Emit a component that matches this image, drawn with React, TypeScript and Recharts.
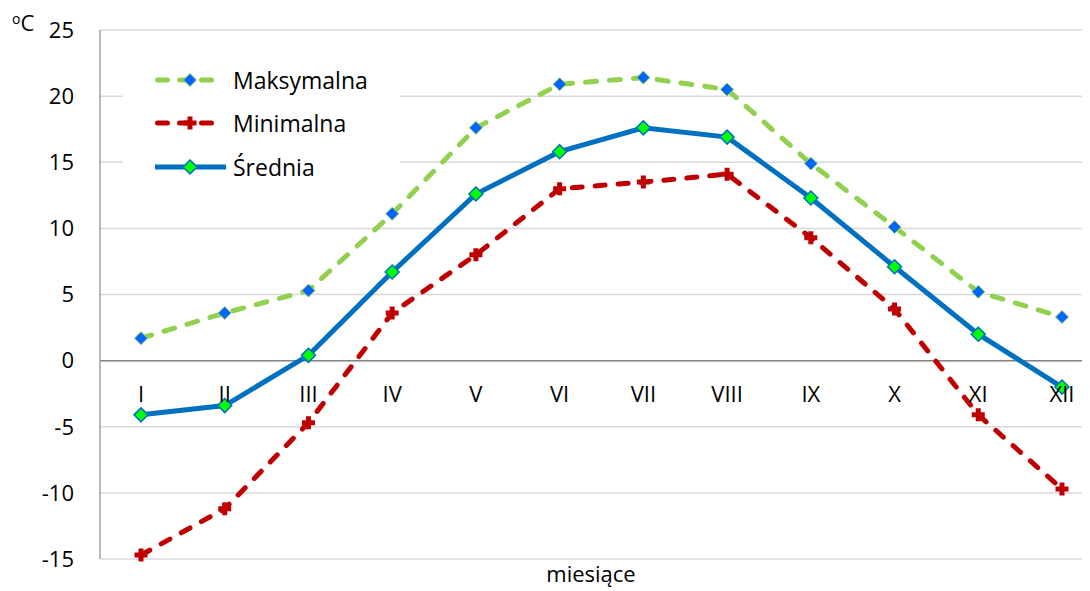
import React from 'react';
import { LineChart, Line, XAxis, YAxis, CartesianGrid, ReferenceLine, ReferenceDot, Legend } from 'recharts';

const months = ['I', 'II', 'III', 'IV', 'V', 'VI', 'VII', 'VIII', 'IX', 'X', 'XI', 'XII'];
const maxTemp = [1.7, 3.6, 5.3, 11.1, 17.6, 20.9, 21.4, 20.5, 14.9, 10.1, 5.2, 3.3];
const minTemp = [-14.7, -11.2, -4.7, 3.6, 8.0, 13.0, 13.5, 14.1, 9.3, 3.9, -4.1, -9.7];
const avgTemp = [-4.1, -3.4, 0.4, 6.7, 12.6, 15.8, 17.6, 16.9, 12.3, 7.1, 2.0, -2.0];
const yTicks = [-15, -10, -5, 0, 5, 10, 15, 20, 25];

const FONT = '"Open Sans", "Noto Sans", sans-serif';
const GREEN = '#92d050';
const RED = '#c00000';
const BLUE = '#0070c0';

const data = months.map((m, i) => ({
  month: m,
  max: maxTemp[i],
  min: minTemp[i],
  avg: avgTemp[i],
}));

// markers, same shapes as in the Excel original
const MaxMarker = ({ cx, cy }: any) => (
  <path
    d={`M${cx},${cy - 6.5} L${cx + 6.5},${cy} L${cx},${cy + 6.5} L${cx - 6.5},${cy} Z`}
    fill="#0066ff"
    stroke={GREEN}
    strokeWidth={1}
  />
);

const MinMarker = ({ cx, cy }: any) => (
  <path
    d={`M${cx - 6.5},${cy} L${cx + 6.5},${cy} M${cx},${cy - 6.5} L${cx},${cy + 6.5}`}
    stroke={RED}
    strokeWidth={5}
    fill="none"
  />
);

const AvgMarker = ({ cx, cy }: any) => (
  <path
    d={`M${cx},${cy - 7} L${cx + 7},${cy} L${cx},${cy + 7} L${cx - 7},${cy} Z`}
    fill="#00ff00"
    stroke={BLUE}
    strokeWidth={1.5}
  />
);

const legendRows = [
  { key: 'max', name: 'Maksymalna' },
  { key: 'min', name: 'Minimalna' },
  { key: 'avg', name: 'Średnia' },
];

const LegendIcon = ({ type }: { type: string }) => {
  if (type === 'avg') {
    return (
      <svg width={78} height={20}>
        <line x1={0} y1={10} x2={71} y2={10} stroke={BLUE} strokeWidth={5} />
        <AvgMarker cx={35} cy={10} />
      </svg>
    );
  }
  const color = type === 'max' ? GREEN : RED;
  return (
    <svg width={78} height={20}>
      <line x1={2.5} y1={10} x2={60} y2={10} stroke={color} strokeWidth={5} strokeDasharray="10 12" strokeLinecap="round" />
      {type === 'max' ? <MaxMarker cx={35} cy={10} /> : <MinMarker cx={35} cy={10} />}
    </svg>
  );
};

const LegendBox = () => (
  <div style={{ background: '#fff', paddingTop: 3, paddingBottom: 6 }}>
    {legendRows.map((r) => (
      <div key={r.key} style={{ display: 'flex', alignItems: 'center', height: 43.5 }}>
        <div style={{ width: 32 }} />
        <LegendIcon type={r.key} />
        <span style={{ fontFamily: FONT, fontSize: 23, color: '#000' }}>{r.name}</span>
      </div>
    ))}
  </div>
);

export default function App() {
  return (
    <div style={{ position: 'relative', width: 1082, height: 583 }}>
      <div
        style={{
          position: 'absolute',
          left: 4,
          top: 3,
          fontFamily: FONT,
          fontSize: 22,
          color: '#000',
          lineHeight: 1,
          zIndex: 2,
        }}
      >
        <span style={{ fontSize: 14, verticalAlign: 'top', position: 'relative', top: 1 }}>o</span>C
      </div>
      <LineChart width={1082} height={583} data={data} margin={{ top: 22, right: 0, bottom: 0, left: 0 }}>
        <CartesianGrid vertical={false} stroke="#d9d9d9" strokeWidth={1.5} />
        <XAxis
          dataKey="month"
          scale="point"
          padding={{ left: 41, right: 28 }}
          height={32}
          tick={false}
          tickLine={false}
          axisLine={false}
          label={{ value: 'miesiące', position: 'insideBottom', offset: 9, dx: -4, fill: '#000', fontSize: 22, fontFamily: FONT }}
        />
        <YAxis
          domain={[-15, 25]}
          ticks={yTicks}
          width={92}
          tickLine={false}
          tickMargin={20}
          axisLine={{ stroke: '#a0a0a0', strokeWidth: 1.5 }}
          tick={{ fill: '#000', fontSize: 22, fontFamily: FONT }}
          interval={0}
        />
        <ReferenceLine y={0} stroke="#868686" strokeWidth={1.5} />
        <Legend
          layout="vertical"
          align="center"
          verticalAlign="middle"
          width={277}
          wrapperStyle={{ left: 115, top: 47, width: 277 }}
          content={() => <LegendBox />}
        />
        {months.map((m) => (
          <ReferenceDot
            key={m}
            x={m}
            y={0}
            r={0}
            ifOverflow="visible"
            fill="none"
            stroke="none"
            label={{ value: m, position: 'bottom', offset: 26, fill: '#000', fontSize: 22, fontFamily: FONT }}
          />
        ))}
        <Line
          dataKey="max"
          name="Maksymalna"
          type="linear"
          stroke={GREEN}
          strokeWidth={5}
          strokeDasharray="11 13"
          strokeLinecap="round"
          dot={(p: any) => <MaxMarker key={`max-${p.index}`} cx={p.cx} cy={p.cy} />}
          activeDot={false}
          isAnimationActive={false}
        />
        <Line
          dataKey="min"
          name="Minimalna"
          type="linear"
          stroke={RED}
          strokeWidth={5}
          strokeDasharray="10 13"
          strokeLinecap="round"
          dot={(p: any) => <MinMarker key={`min-${p.index}`} cx={p.cx} cy={p.cy} />}
          activeDot={false}
          isAnimationActive={false}
        />
        <Line
          dataKey="avg"
          name="Średnia"
          type="linear"
          stroke={BLUE}
          strokeWidth={5}
          dot={(p: any) => <AvgMarker key={`avg-${p.index}`} cx={p.cx} cy={p.cy} />}
          activeDot={false}
          isAnimationActive={false}
        />
      </LineChart>
    </div>
  );
}
